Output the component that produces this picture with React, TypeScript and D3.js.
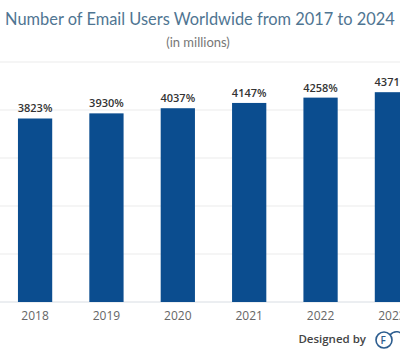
import { useRef, useEffect } from "react";
import * as d3 from "d3";

const years = ["2018", "2019", "2020", "2021", "2022", "2023"];
const users = [3823, 3930, 4037, 4147, 4258, 4371];
const yTicks = [0, 1000, 2000, 3000, 4000, 5000];

const title = "Number of Email Users Worldwide from 2017 to 2024";
const subtitle = "(in millions)";

export default function App() {
  const svgRef = useRef<SVGSVGElement>(null);

  useEffect(() => {
    if (!svgRef.current) return;
    const width = 400;
    const height = 350;

    const svg = d3.select(svgRef.current);
    svg.selectAll("*").remove();
    svg.attr("width", width).attr("height", height);

    svg.append("rect").attr("width", width).attr("height", height).attr("fill", "#fff");

    const x = d3
      .scaleBand()
      .domain(years)
      .range([-0.6, 427.6])
      .paddingInner(0.52)
      .paddingOuter(0.26);

    const y = d3.scaleLinear().domain([0, 5000]).range([302, 62]);

    // grid lines
    svg
      .selectAll(".grid")
      .data(yTicks)
      .join("line")
      .attr("class", "grid")
      .attr("x1", 0)
      .attr("x2", width)
      .attr("y1", (d) => y(d))
      .attr("y2", (d) => y(d))
      .attr("stroke", (d) => (d === 0 ? "#d8dde3" : "#ebebeb"))
      .attr("stroke-width", 1);

    // bars
    svg
      .selectAll(".bar")
      .data(users)
      .join("rect")
      .attr("class", "bar")
      .attr("x", (_, i) => x(years[i]) ?? 0)
      .attr("y", (d) => y(d))
      .attr("width", x.bandwidth())
      .attr("height", (d) => y(0) - y(d))
      .attr("fill", "#0b4d8f");

    // value labels
    svg
      .selectAll(".val")
      .data(users)
      .join("text")
      .attr("class", "val")
      .attr("x", (_, i) => (x(years[i]) ?? 0) + x.bandwidth() / 2)
      .attr("y", (d) => y(d) - 6)
      .attr("text-anchor", "middle")
      .style("font-family", "'Open Sans', sans-serif")
      .style("font-weight", 600)
      .style("font-size", "11px")
      .style("fill", "#333")
      .text((d) => `${d}%`);

    // x axis labels
    const xAxis = svg
      .append("g")
      .attr("transform", `translate(0,${y(0)})`)
      .call(d3.axisBottom(x).tickSize(0).tickPadding(9));
    xAxis.select(".domain").remove();
    xAxis
      .selectAll("text")
      .style("font-family", "'Open Sans', sans-serif")
      .style("font-size", "12px")
      .style("fill", "#666");

    // title
    svg
      .append("text")
      .attr("x", 200)
      .attr("y", 25)
      .attr("text-anchor", "middle")
      .style("font-family", "Lato, sans-serif")
      .style("font-size", "16.4px")
      .style("fill", "#4f7592")
      .text(title);

    svg
      .append("text")
      .attr("x", 198)
      .attr("y", 47)
      .attr("text-anchor", "middle")
      .style("font-family", "Lato, sans-serif")
      .style("font-size", "13px")
      .style("fill", "#777")
      .text(subtitle);

    // footer credit
    svg
      .append("text")
      .attr("x", 366)
      .attr("y", 343)
      .attr("text-anchor", "end")
      .style("font-family", "'Open Sans', sans-serif")
      .style("font-weight", 600)
      .style("font-size", "11.5px")
      .style("fill", "#444")
      .text("Designed by");

    const logo = svg.append("g").attr("transform", "translate(375,330)");
    logo
      .append("circle")
      .attr("cx", 9)
      .attr("cy", 10)
      .attr("r", 8)
      .attr("fill", "none")
      .attr("stroke", "#2c5d8f")
      .attr("stroke-width", 1.6);
    logo
      .append("path")
      .attr("d", "M15,5 C19,0 26,1 28,6 C32,6 35,9 34,13")
      .attr("fill", "none")
      .attr("stroke", "#2c5d8f")
      .attr("stroke-width", 1.6);
    logo
      .append("text")
      .attr("x", 5.5)
      .attr("y", 14)
      .style("font-family", "'Open Sans', sans-serif")
      .style("font-size", "10px")
      .style("font-weight", 600)
      .style("fill", "#2c5d8f")
      .text("F");
  }, []);

  return (
    <svg
      ref={svgRef}
      style={{ position: "absolute", left: 0, top: 0, display: "block" }}
    />
  );
}
